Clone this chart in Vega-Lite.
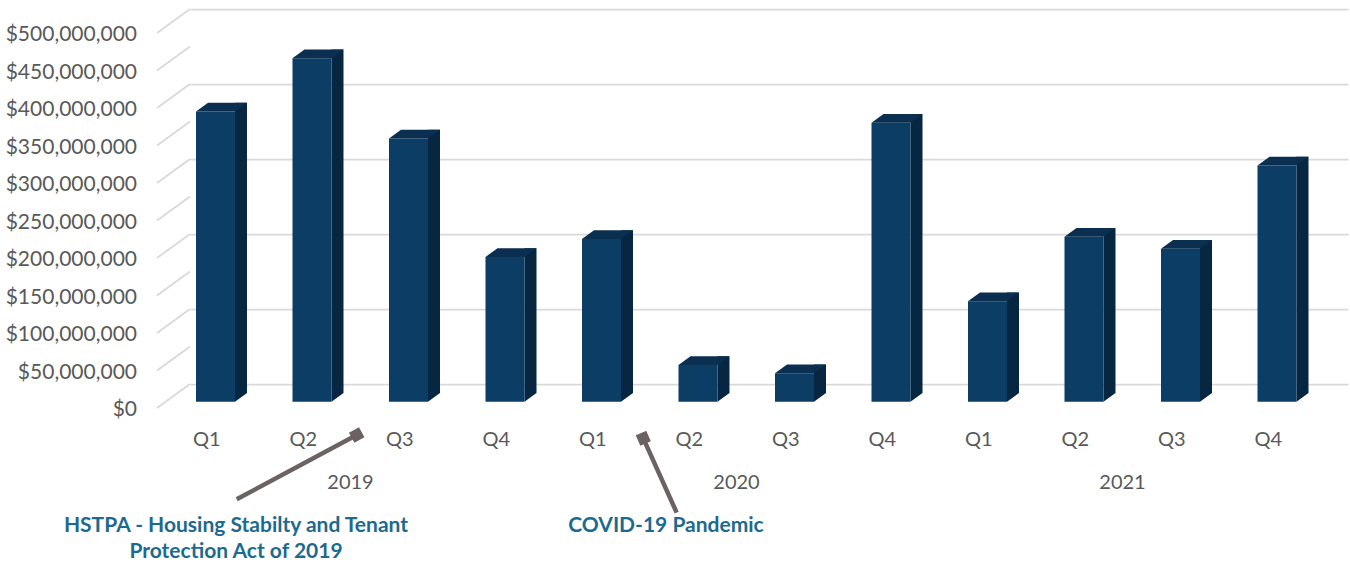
{
  "$schema": "https://vega.github.io/schema/vega-lite/v6.json",
  "autosize": "none",
  "padding": {"left": 190, "top": 9, "right": 2, "bottom": 181},
  "width": 1158,
  "height": 375,
  "background": "white",
  "config": {
    "view": {"stroke": null},
    "font": "Lato",
    "axis": {"labelFont": "Lato", "labelColor": "#595959", "domain": false, "ticks": false, "title": null}
  },
  "datasets": {
    "quarters": [
      {"period": "2019 Q1", "year": "2019", "quarter": "Q1", "amount": 387000000},
      {"period": "2019 Q2", "year": "2019", "quarter": "Q2", "amount": 458000000},
      {"period": "2019 Q3", "year": "2019", "quarter": "Q3", "amount": 351000000},
      {"period": "2019 Q4", "year": "2019", "quarter": "Q4", "amount": 193000000},
      {"period": "2020 Q1", "year": "2020", "quarter": "Q1", "amount": 217000000},
      {"period": "2020 Q2", "year": "2020", "quarter": "Q2", "amount": 49000000},
      {"period": "2020 Q3", "year": "2020", "quarter": "Q3", "amount": 38000000},
      {"period": "2020 Q4", "year": "2020", "quarter": "Q4", "amount": 372000000},
      {"period": "2021 Q1", "year": "2021", "quarter": "Q1", "amount": 134000000},
      {"period": "2021 Q2", "year": "2021", "quarter": "Q2", "amount": 220000000},
      {"period": "2021 Q3", "year": "2021", "quarter": "Q3", "amount": 204000000},
      {"period": "2021 Q4", "year": "2021", "quarter": "Q4", "amount": 315000000}
    ],
    "gridTicks": [
      {"tick": 0}, {"tick": 50000000}, {"tick": 100000000}, {"tick": 150000000},
      {"tick": 200000000}, {"tick": 250000000}, {"tick": 300000000}, {"tick": 350000000},
      {"tick": 400000000}, {"tick": 450000000}, {"tick": 500000000}
    ],
    "events": [
      {"event": "HSTPA", "after": "2019 Q2", "label": "HSTPA - Housing Stabilty and Tenant\nProtection Act of 2019"},
      {"event": "COVID", "after": "2020 Q1", "label": "COVID-19 Pandemic"}
    ]
  },
  "layer": [
    {
      "description": "Side wall of the 3-D box: slanted gridline segments; the y axis draws the back-wall grid",
      "data": {"name": "gridTicks"},
      "mark": {"type": "point", "shape": "M0,0L-33,24", "size": 4, "filled": false, "opacity": 1, "stroke": "#d9d9d9", "strokeWidth": 1.75},
      "encoding": {
        "x": {"datum": "2019 Q1", "type": "ordinal", "bandPosition": 0, "title": null,
              "scale": {"domain": ["2019 Q1","2019 Q2","2019 Q3","2019 Q4","2020 Q1","2020 Q2","2020 Q3","2020 Q4","2021 Q1","2021 Q2","2021 Q3","2021 Q4"], "paddingInner": 0, "paddingOuter": 0},
              "axis": {"labelExpr": "split(datum.value, ' ')[1]", "labelOffset": -31.5, "labelPadding": 55,
                       "labelBaseline": "middle", "labelAngle": 0, "grid": false, "labelFontSize": 20}},
        "y": {"field": "tick", "type": "quantitative", "title": null,
              "scale": {"domain": [0, 500000000], "nice": false, "zero": true},
              "axis": {
                "values": [0, 50000000, 100000000, 150000000, 200000000, 250000000, 300000000, 350000000, 400000000, 450000000, 500000000],
                "grid": true, "gridColor": "#d9d9d9", "gridWidth": 1.75, "labels": false
              }}
      }
    },
    {
      "description": "Dollar labels at the front edge of each gridline",
      "data": {"name": "gridTicks"},
      "mark": {"type": "text", "font": "Lato", "fontSize": 21, "color": "#595959", "align": "right", "baseline": "middle", "xOffset": -53, "yOffset": 26},
      "encoding": {
        "x": {"datum": "2019 Q1", "type": "ordinal", "bandPosition": 0, "title": null},
        "y": {"field": "tick", "type": "quantitative", "title": null},
        "text": {"field": "tick", "type": "quantitative", "format": "$,.0f"}
      }
    },
    {
      "description": "Bar side faces",
      "data": {"name": "quarters"},
      "mark": {"type": "bar", "width": 12, "xOffset": 2.75, "yOffset": 9, "y2Offset": 9, "color": "#062641"},
      "encoding": {
        "x": {"field": "period", "type": "ordinal", "title": null},
        "y": {"field": "amount", "type": "quantitative", "title": null},
        "y2": {"datum": 0}
      }
    },
    {
      "description": "Bar side face foot",
      "data": {"name": "quarters"},
      "mark": {"type": "point", "shape": "M19.5,0L19.5,-8.7L31.5,-8.7Z", "size": 4, "filled": true, "opacity": 1, "color": "#062641", "strokeWidth": 0, "xOffset": -22.75, "yOffset": 17.7},
      "encoding": {
        "x": {"field": "period", "type": "ordinal", "title": null},
        "y": {"datum": 0, "type": "quantitative", "title": null}
      }
    },
    {
      "description": "Bar front faces",
      "data": {"name": "quarters"},
      "mark": {"type": "bar", "width": 39, "xOffset": -22.75, "yOffset": 17.7, "y2Offset": 17.7, "color": "#0c3d64"},
      "encoding": {
        "x": {"field": "period", "type": "ordinal", "title": null},
        "y": {"field": "amount", "type": "quantitative", "title": null},
        "y2": {"datum": 0}
      }
    },
    {
      "description": "Bar top caps",
      "data": {"name": "quarters"},
      "mark": {"type": "point", "shape": "M-19.5,0L19.5,0L31.5,-8.7L-7.5,-8.7Z", "size": 4, "filled": true, "opacity": 1, "color": "#0a2f50", "strokeWidth": 0, "xOffset": -22.75, "yOffset": 17.7},
      "encoding": {
        "x": {"field": "period", "type": "ordinal", "title": null},
        "y": {"field": "amount", "type": "quantitative", "title": null}
      }
    },
    {
      "description": "Year labels centred under each group of quarters",
      "data": {"name": "quarters"},
      "transform": [{"filter": "datum.quarter === 'Q2'"}],
      "mark": {"type": "text", "font": "Lato", "fontSize": 20, "color": "#595959", "baseline": "middle", "align": "center", "xOffset": -32.5, "yOffset": 99},
      "encoding": {
        "x": {"field": "period", "type": "ordinal", "bandPosition": 1, "title": null},
        "y": {"datum": 0, "type": "quantitative", "title": null},
        "text": {"field": "year"}
      }
    },
    {
      "description": "HSTPA callout text",
      "data": {"name": "events"},
      "transform": [{"filter": "datum.event === 'HSTPA'"}],
      "mark": {"type": "text", "font": "Lato", "fontWeight": "bold", "fontSize": 21, "color": "#1d6a8f", "baseline": "alphabetic", "align": "center", "lineBreak": "\n", "lineHeight": 26, "xOffset": -147, "yOffset": 148.3},
      "encoding": {
        "x": {"field": "after", "type": "ordinal", "bandPosition": 1, "title": null},
        "y": {"datum": 0, "type": "quantitative", "title": null},
        "text": {"field": "label"}
      }
    },
    {
      "description": "COVID callout text",
      "data": {"name": "events"},
      "transform": [{"filter": "datum.event === 'COVID'"}],
      "mark": {"type": "text", "font": "Lato", "fontWeight": "bold", "fontSize": 21, "color": "#1d6a8f", "baseline": "alphabetic", "align": "center", "xOffset": -6.5, "yOffset": 148.3},
      "encoding": {
        "x": {"field": "after", "type": "ordinal", "bandPosition": 1, "title": null},
        "y": {"datum": 0, "type": "quantitative", "title": null},
        "text": {"field": "label"}
      }
    },
    {
      "description": "HSTPA callout arrow",
      "data": {"name": "events"},
      "transform": [{"filter": "datum.event === 'HSTPA'"}],
      "mark": {"type": "point", "shape": "M-120,64.3L0,0M4.7,1.4L1.4,-4.7L-4.7,-1.4L-1.4,4.7Z", "size": 4, "filled": true, "opacity": 1, "fill": "#6b6361", "stroke": "#6b6361", "strokeWidth": 4.5, "xOffset": -26.3, "yOffset": 51},
      "encoding": {
        "x": {"field": "after", "type": "ordinal", "bandPosition": 1, "title": null},
        "y": {"datum": 0, "type": "quantitative", "title": null}
      }
    },
    {
      "description": "COVID callout arrow",
      "data": {"name": "events"},
      "transform": [{"filter": "datum.event === 'COVID'"}],
      "mark": {"type": "point", "shape": "M33.4,74.4L0,0M1.8,-4.6L-4.6,-1.8L-1.8,4.6L4.6,1.8Z", "size": 4, "filled": true, "opacity": 1, "fill": "#6b6361", "stroke": "#6b6361", "strokeWidth": 4.5, "xOffset": -29.2, "yOffset": 54.3},
      "encoding": {
        "x": {"field": "after", "type": "ordinal", "bandPosition": 1, "title": null},
        "y": {"datum": 0, "type": "quantitative", "title": null}
      }
    }
  ]
}
